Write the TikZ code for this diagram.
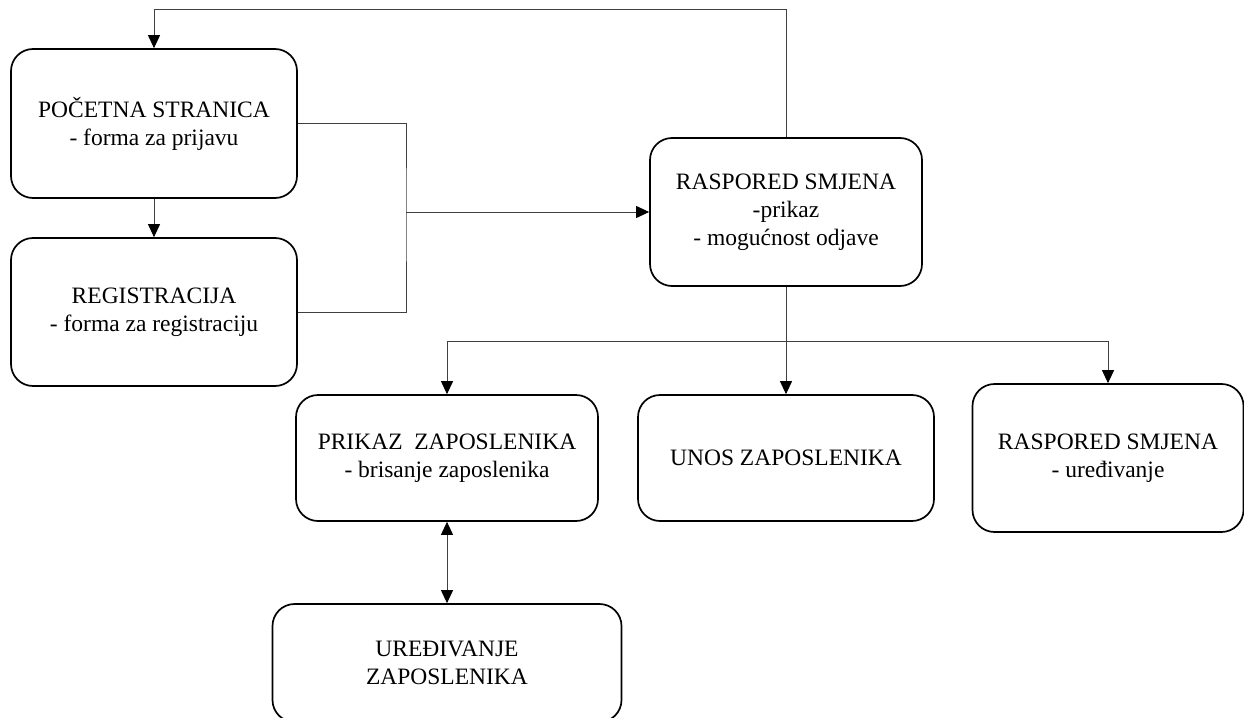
\documentclass[tikz,border=0pt]{standalone}
\usepackage{fontspec}
\setmainfont{Liberation Serif}
\usetikzlibrary{arrows.meta}
\tikzset{
  box/.style={draw=black, line width=1.7pt, rounded corners=22pt, rectangle, inner sep=0pt,
    align=center, font=\fontsize{23.5}{28}\selectfont, text=black},
  conn/.style={draw=black!75, line width=1pt},
  tip/.tip={Triangle[length=13pt,width=12pt,fill=black,color=black]},
  arr/.style={conn, -tip},
  dbl/.style={conn, tip-tip}
}
\begin{document}
\begin{tikzpicture}[x=1pt,y=-1pt]
\useasboundingbox (0,0) rectangle (1244,717);
\clip (0,0) rectangle (1244,717);
\fill[white] (0,0) rectangle (1244,717);

\node[box, minimum width=286pt, minimum height=149pt] (b1) at (154,123.5) {POČETNA STRANICA\\- forma za prijavu};
\node[box, minimum width=286pt, minimum height=148pt] (b2) at (154,312) {REGISTRACIJA\\- forma za registraciju};
\node[box, minimum width=272pt, minimum height=148pt] (b3) at (786,212) {RASPORED SMJENA\\-prikaz\\- mogućnost odjave};
\node[box, minimum width=302pt, minimum height=126pt] (b4) at (447,458) {PRIKAZ\ \ ZAPOSLENIKA\\- brisanje zaposlenika};
\node[box, minimum width=296pt, minimum height=126pt] (b5) at (786,458) {UNOS ZAPOSLENIKA};
\node[box, minimum width=271pt, minimum height=148pt] (b6) at (1108,458) {RASPORED SMJENA\\- uređivanje};
\node[box, minimum width=349pt, minimum height=118pt] (b7) at (447,663) {UREĐIVANJE\\ZAPOSLENIKA};

\coordinate (top) at (0,10);
\coordinate (j) at (406,212);
\coordinate (k) at (786,341);

\draw[arr] (b3.north) -- (b3.north |- top) -| (b1.north);
\draw[arr] (b1.south) -- (b2.north);
\draw[conn] (b1.east) -| (j) |- (b2.east);
\draw[arr] (j) -- (b3.west);
\draw[arr] (b3.south) -- (b5.north);
\draw[arr] (k) -| (b4.north);
\draw[arr] (k) -| (b6.north);
\draw[dbl] (b4.south) -- (b7.north);
\end{tikzpicture}
\end{document}
